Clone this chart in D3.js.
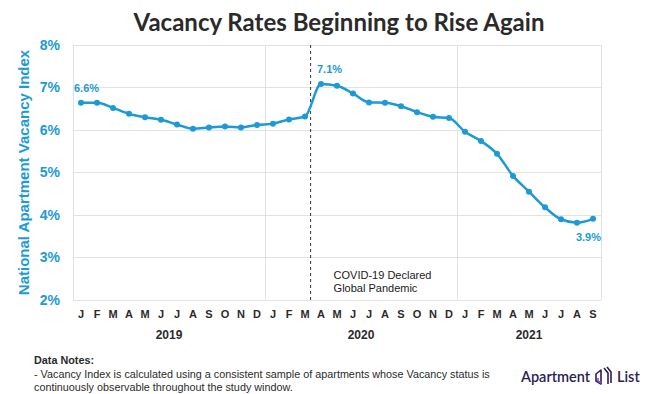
<!DOCTYPE html>
<meta charset="utf-8">
<style>
  html, body { margin: 0; padding: 0; background: #fff; overflow: hidden; }
  body { font-family: "Liberation Sans", Arial, sans-serif; }
  .grid line { stroke: #e2e2e2; stroke-width: 1px; shape-rendering: crispEdges; }
  .axis path, .axis line { display: none; }
  .axis--y text { fill: #1b9ad6; font: bold 14px "Liberation Sans", Arial, sans-serif; }
  .axis--x text { fill: #2b2b2b; font: bold 11px "Liberation Sans", Arial, sans-serif; }
  .note { fill: #2b2b2b; font: 10.8px "Liberation Sans", Arial, sans-serif; }
</style>
<svg width="650" height="394"></svg>
<script src="https://d3js.org/d3.v7.min.js"></script>
<script>

var months = ["J","F","M","A","M","J","J","A","S","O","N","D",
              "J","F","M","A","M","J","J","A","S","O","N","D",
              "J","F","M","A","M","J","J","A","S"];
var years = ["2019", "2020", "2021"];
var vacancy = [6.64, 6.64, 6.52, 6.38, 6.30, 6.24, 6.13, 6.03, 6.06, 6.08, 6.06, 6.12,
               6.15, 6.25, 6.32, 7.08, 7.04, 6.86, 6.65, 6.64, 6.56, 6.42, 6.31, 6.28,
               5.96, 5.74, 5.44, 4.92, 4.55, 4.18, 3.90, 3.82, 3.91];
var yTicks = [2, 3, 4, 5, 6, 7, 8];
var labelled = [0, 15, 32];   // points that carry a value label
var covidAt = 14.35;          // March 11, 2020 in month units

var margin = {top: 45, right: 49, bottom: 94, left: 73},
    width = 650 - margin.left - margin.right,
    height = 394 - margin.top - margin.bottom;

var svg = d3.select("svg");
var g = svg.append("g")
    .attr("transform", "translate(" + margin.left + "," + margin.top + ")");

var idx = d3.range(vacancy.length);
var x = d3.scaleBand().domain(idx).range([0, width]).padding(0);
var y = d3.scaleLinear().domain([2, 8]).range([height, 0]);
var cx = function(i) { return x(i) + x.bandwidth() / 2; };
var blue = "#1b9ad6";

// horizontal grid
g.append("g").attr("class", "grid")
  .selectAll("line").data(yTicks).enter().append("line")
    .attr("x1", 0).attr("x2", width)
    .attr("y1", function(d) { return y(d); })
    .attr("y2", function(d) { return y(d); });

// year dividers + border
g.append("g").attr("class", "grid")
  .selectAll("line").data([0, 12, 24, 33]).enter().append("line")
    .attr("x1", function(d) { return d < 33 ? x(d) : width; })
    .attr("x2", function(d) { return d < 33 ? x(d) : width; })
    .attr("y1", 0).attr("y2", height);

g.append("g")
    .attr("class", "axis axis--y")
    .call(d3.axisLeft(y).tickValues(yTicks).tickSize(0).tickPadding(13)
      .tickFormat(function(d) { return d + "%"; }));

g.append("g")
    .attr("class", "axis axis--x")
    .attr("transform", "translate(0," + height + ")")
    .call(d3.axisBottom(x).tickSize(0).tickPadding(10)
      .tickFormat(function(i) { return months[i]; }));

g.selectAll(".year").data(years).enter().append("text")
    .attr("x", function(d, i) { return (x(i * 12) + (i < 2 ? x(i * 12 + 12) : width)) / 2; })
    .attr("y", height + 39)
    .attr("text-anchor", "middle")
    .style("font", "bold 12px 'Liberation Sans', Arial, sans-serif")
    .style("fill", "#2b2b2b")
    .text(function(d) { return d; });

// covid marker
var covX = x(0) + covidAt * x.bandwidth() + x.bandwidth() / 2;
g.append("line")
    .attr("x1", covX).attr("x2", covX)
    .attr("y1", 0).attr("y2", height)
    .style("stroke", "#333").style("stroke-width", 1)
    .style("stroke-dasharray", "3,3");

g.append("text")
    .attr("x", covX + 23).attr("y", height - 21)
    .style("font", "11px 'Liberation Sans', Arial, sans-serif")
    .style("fill", "#1a1a1a")
    .selectAll("tspan").data(["COVID-19 Declared", "Global Pandemic"]).enter()
    .append("tspan")
      .attr("x", covX + 23)
      .attr("dy", function(d, i) { return i ? 13 : 0; })
      .text(function(d) { return d; });

var line = d3.line()
    .x(function(d, i) { return cx(i); })
    .y(function(d) { return y(d); })
    .curve(d3.curveMonotoneX);

g.append("path")
    .datum(vacancy)
    .attr("d", line)
    .style("fill", "none")
    .style("stroke", blue)
    .style("stroke-width", 2.5);

g.selectAll(".dot").data(vacancy).enter().append("circle")
    .attr("cx", function(d, i) { return cx(i); })
    .attr("cy", function(d) { return y(d); })
    .attr("r", 3)
    .style("fill", blue);

g.selectAll(".lbl").data(labelled).enter().append("text")
    .attr("x", function(i) { return i === 32 ? width : cx(i) - 7 + (i === 15 ? 3 : 0); })
    .attr("y", function(i) { return y(vacancy[i]) + (i === 32 ? 22 : -11); })
    .attr("text-anchor", function(i) { return i === 32 ? "end" : "start"; })
    .style("font", "bold 11px 'Liberation Sans', Arial, sans-serif")
    .style("fill", blue)
    .text(function(i) { return vacancy[i].toFixed(1) + "%"; });

// y axis title
svg.append("text")
    .attr("transform", "translate(29," + (margin.top + height / 2) + ") rotate(-90)")
    .attr("text-anchor", "middle")
    .style("font", "bold 15px 'Liberation Sans', Arial, sans-serif")
    .style("fill", blue)
    .text("National Apartment Vacancy Index");

// title
svg.append("text")
    .attr("x", 339).attr("y", 31)
    .attr("text-anchor", "middle")
    .style("font", "bold 24px Lato, sans-serif")
    .style("fill", "#2a2a2a")
    .text("Vacancy Rates Beginning to Rise Again");

// notes
svg.append("text").attr("class", "note").attr("x", 34).attr("y", 364)
    .style("font-weight", "bold").text("Data Notes:");
svg.append("text").attr("class", "note").attr("x", 34).attr("y", 378)
    .text("- Vacancy Index is calculated using a consistent sample of apartments whose Vacancy status is");
svg.append("text").attr("class", "note").attr("x", 34).attr("y", 391)
    .text("continuously observable throughout the study window.");

// logo
var logo = svg.append("g").attr("transform", "translate(521,382)");
logo.append("text").attr("x", 0).attr("y", 0)
    .style("font", "600 14.5px Lato, sans-serif").style("fill", "#2e1c54")
    .text("Apartment");
var ic = logo.append("g").attr("transform", "translate(73,-14)")
    .style("fill", "none").style("stroke-width", 1.6).style("stroke-linejoin", "round");
ic.append("path").attr("d", "M2,6 L7,2 L7,16 L2,13 Z").style("stroke", "#2e1c54");
ic.append("path").attr("d", "M4,10 L4,13 L7,15").style("stroke", "#8a4fe0");
ic.append("path").attr("d", "M10,0 L14,5 L14,16").style("stroke", "#2e1c54");
ic.append("path").attr("d", "M13,-1 L17,4 L17,15").style("stroke", "#2e1c54");
logo.append("text").attr("x", 96).attr("y", 0)
    .style("font", "600 14.5px Lato, sans-serif").style("fill", "#2e1c54")
    .text("List");
</script>
